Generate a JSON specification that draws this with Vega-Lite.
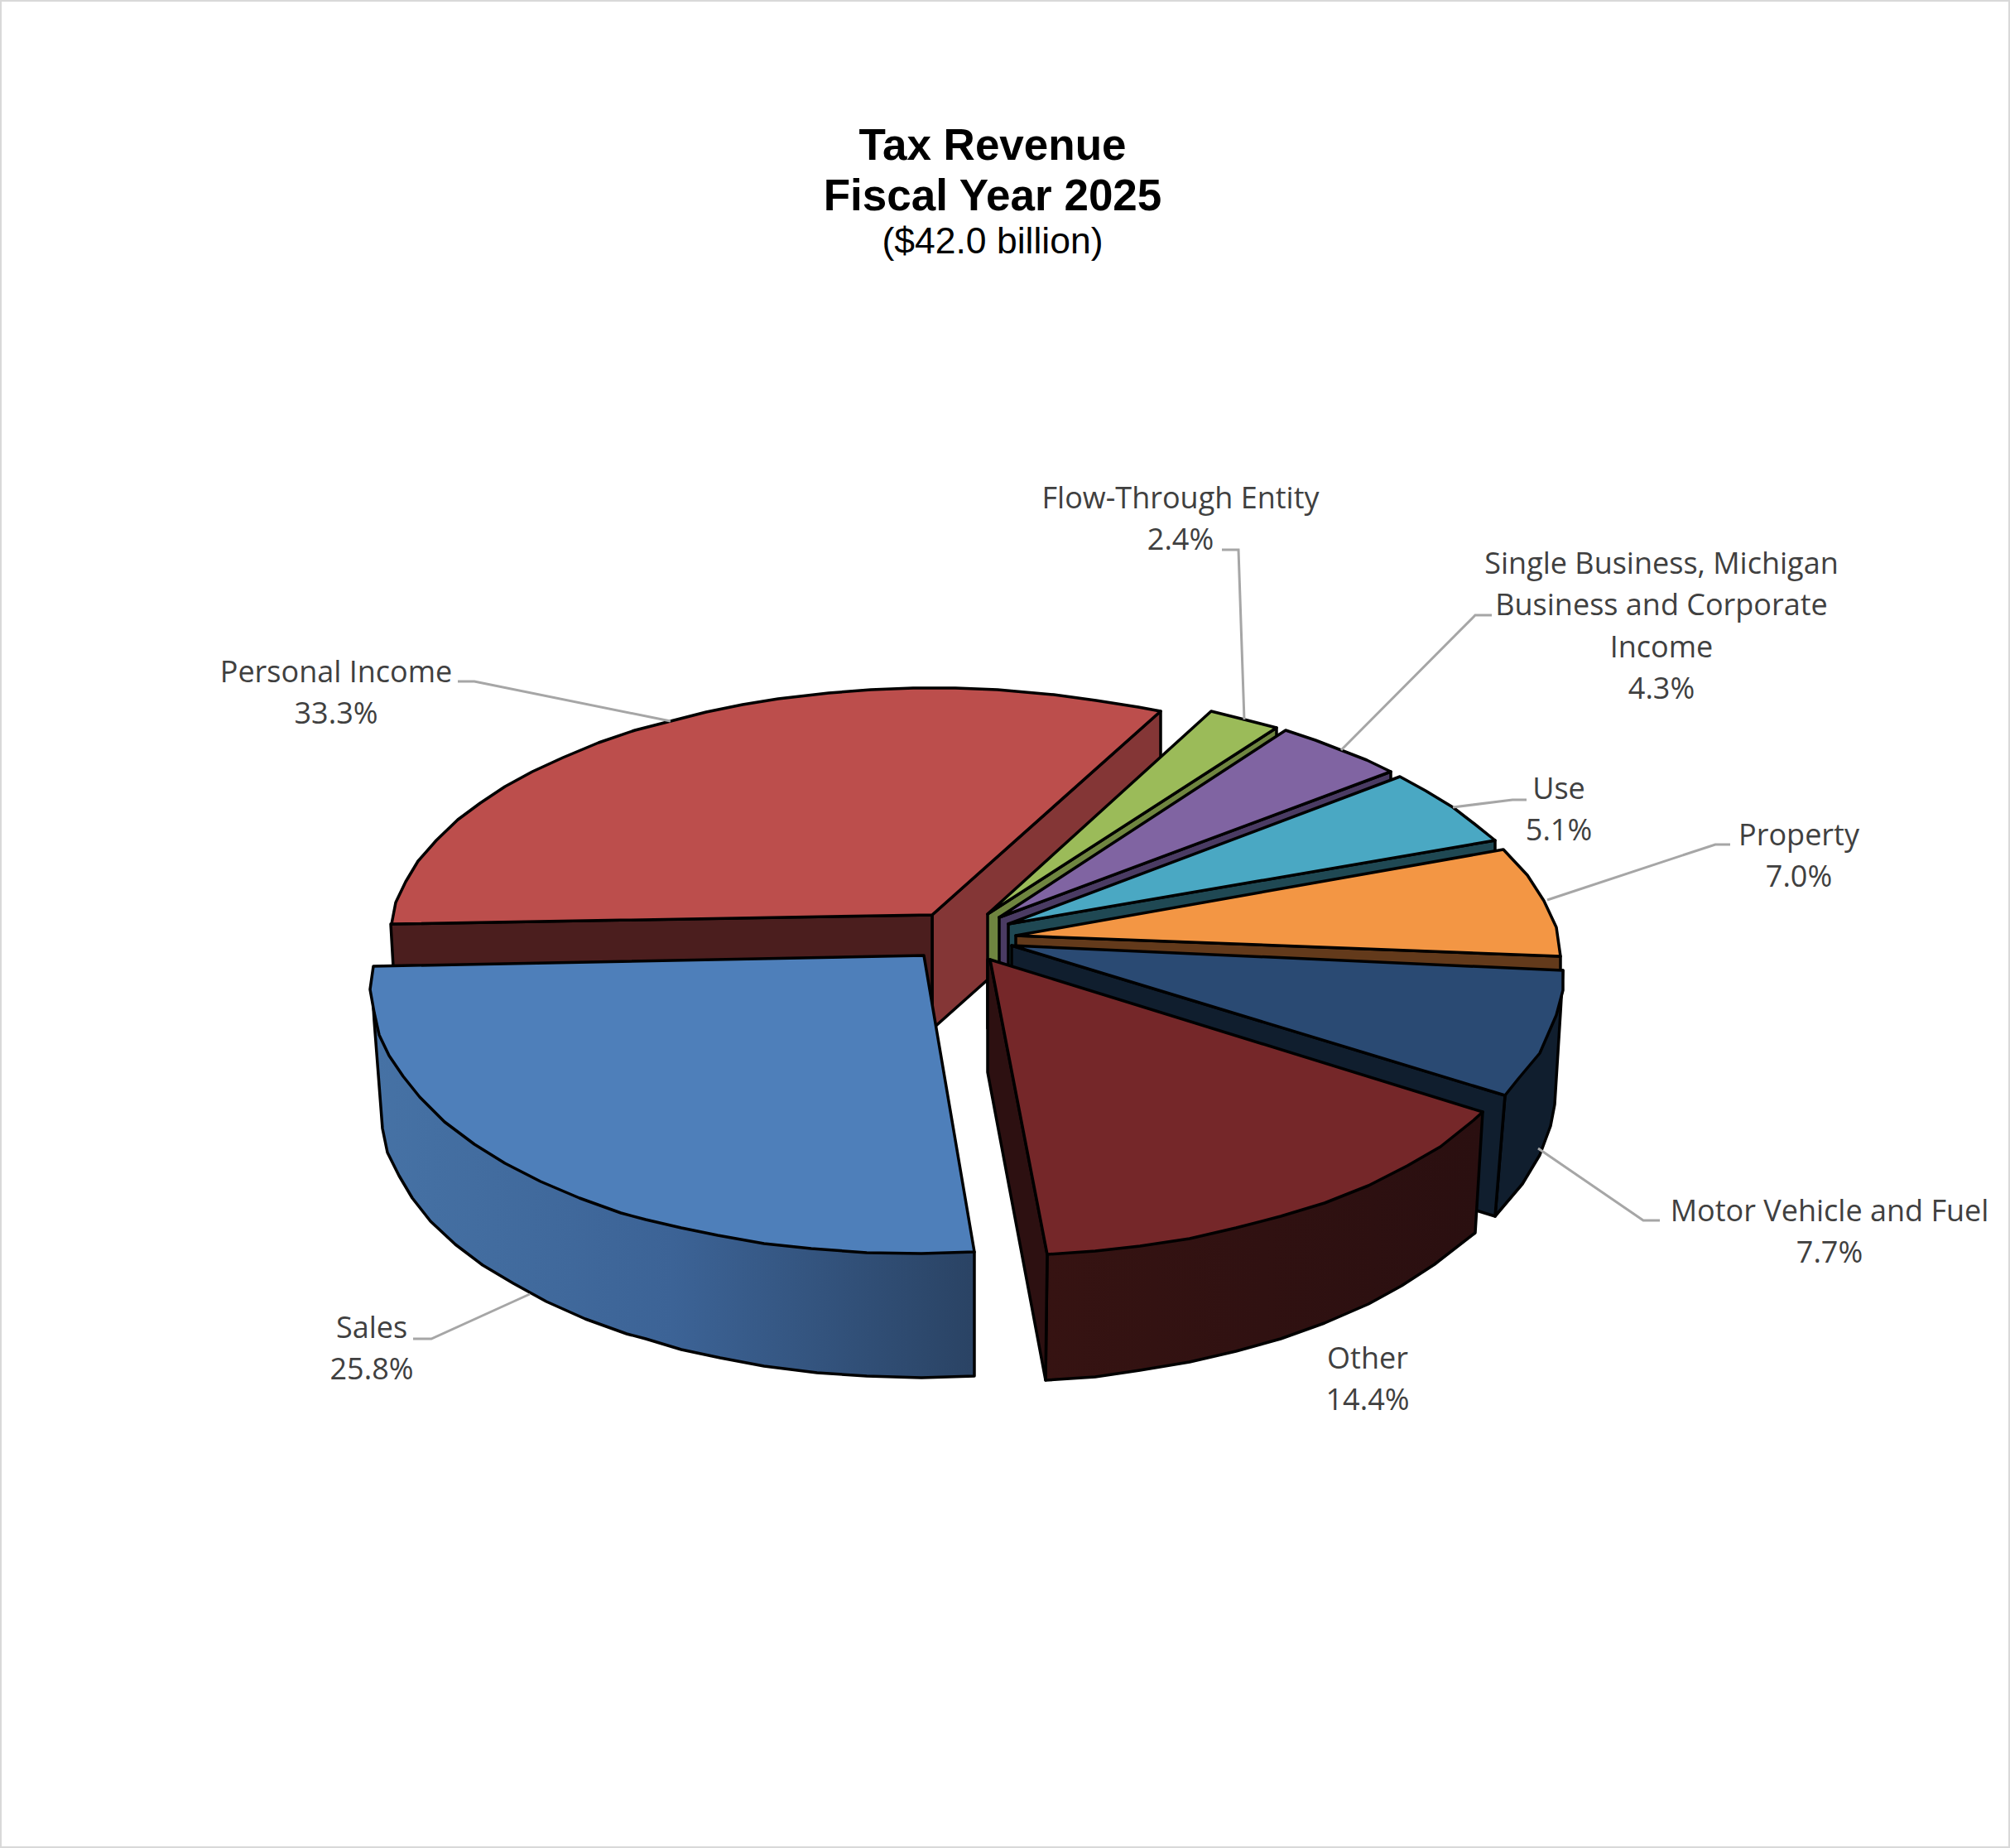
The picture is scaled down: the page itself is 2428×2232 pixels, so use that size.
{
  "$schema": "https://vega.github.io/schema/vega-lite/v6.json",
  "width": 2428,
  "height": 2232,
  "padding": 0,
  "autosize": {"type": "fit", "contains": "padding"},
  "background": "white",
  "view": {"stroke": "#d9d9d9", "strokeWidth": 4},
  "datasets": {
    "back": [
      {"shape":"Personal Income right cut","i":0,"x":1126,"y":1105},{"shape":"Personal Income right cut","i":1,"x":1402,"y":859},{"shape":"Personal Income right cut","i":2,"x":1402,"y":997},{"shape":"Personal Income right cut","i":3,"x":1126,"y":1243},{"shape":"Personal Income right cut","i":4,"x":1126,"y":1105},
      {"shape":"Personal Income left cut","i":0,"x":472,"y":1116},{"shape":"Personal Income left cut","i":1,"x":1126,"y":1105},{"shape":"Personal Income left cut","i":2,"x":1126,"y":1243},{"shape":"Personal Income left cut","i":3,"x":480,"y":1254},{"shape":"Personal Income left cut","i":4,"x":472,"y":1116},
      {"shape":"Personal Income top","i":0,"x":473,"y":1116},{"shape":"Personal Income top","i":1,"x":478,"y":1090},{"shape":"Personal Income top","i":2,"x":490,"y":1065},{"shape":"Personal Income top","i":3,"x":505,"y":1040},{"shape":"Personal Income top","i":4,"x":527,"y":1015},{"shape":"Personal Income top","i":5,"x":553,"y":990},{"shape":"Personal Income top","i":6,"x":580,"y":970},{"shape":"Personal Income top","i":7,"x":610,"y":950},{"shape":"Personal Income top","i":8,"x":643,"y":932},{"shape":"Personal Income top","i":9,"x":680,"y":915},{"shape":"Personal Income top","i":10,"x":723,"y":897},{"shape":"Personal Income top","i":11,"x":767,"y":882},{"shape":"Personal Income top","i":12,"x":810,"y":871},{"shape":"Personal Income top","i":13,"x":853,"y":860},{"shape":"Personal Income top","i":14,"x":897,"y":851},{"shape":"Personal Income top","i":15,"x":940,"y":844},{"shape":"Personal Income top","i":16,"x":1001,"y":837},{"shape":"Personal Income top","i":17,"x":1052,"y":833},{"shape":"Personal Income top","i":18,"x":1103,"y":831},{"shape":"Personal Income top","i":19,"x":1154,"y":831},{"shape":"Personal Income top","i":20,"x":1205,"y":833},{"shape":"Personal Income top","i":21,"x":1273,"y":839},{"shape":"Personal Income top","i":22,"x":1324,"y":846},{"shape":"Personal Income top","i":23,"x":1375,"y":854},{"shape":"Personal Income top","i":24,"x":1402,"y":859},{"shape":"Personal Income top","i":25,"x":1126,"y":1105},{"shape":"Personal Income top","i":26,"x":473,"y":1116},
      {"shape":"Flow-Through cut","i":0,"x":1193,"y":1104},{"shape":"Flow-Through cut","i":1,"x":1542,"y":879},{"shape":"Flow-Through cut","i":2,"x":1542,"y":1017},{"shape":"Flow-Through cut","i":3,"x":1193,"y":1242},{"shape":"Flow-Through cut","i":4,"x":1193,"y":1104},
      {"shape":"Flow-Through top","i":0,"x":1193,"y":1104},{"shape":"Flow-Through top","i":1,"x":1463,"y":859},{"shape":"Flow-Through top","i":2,"x":1503,"y":869},{"shape":"Flow-Through top","i":3,"x":1542,"y":879},{"shape":"Flow-Through top","i":4,"x":1193,"y":1104},
      {"shape":"Single Business cut","i":0,"x":1207,"y":1108},{"shape":"Single Business cut","i":1,"x":1680,"y":932},{"shape":"Single Business cut","i":2,"x":1680,"y":1070},{"shape":"Single Business cut","i":3,"x":1207,"y":1246},{"shape":"Single Business cut","i":4,"x":1207,"y":1108},
      {"shape":"Single Business top","i":0,"x":1207,"y":1108},{"shape":"Single Business top","i":1,"x":1553,"y":882},{"shape":"Single Business top","i":2,"x":1589,"y":894},{"shape":"Single Business top","i":3,"x":1620,"y":906},{"shape":"Single Business top","i":4,"x":1651,"y":918},{"shape":"Single Business top","i":5,"x":1680,"y":932},{"shape":"Single Business top","i":6,"x":1207,"y":1108},
      {"shape":"Use cut","i":0,"x":1218,"y":1116},{"shape":"Use cut","i":1,"x":1806,"y":1015},{"shape":"Use cut","i":2,"x":1806,"y":1153},{"shape":"Use cut","i":3,"x":1218,"y":1254},{"shape":"Use cut","i":4,"x":1218,"y":1116},
      {"shape":"Use top","i":0,"x":1218,"y":1116},{"shape":"Use top","i":1,"x":1691,"y":938},{"shape":"Use top","i":2,"x":1722,"y":955},{"shape":"Use top","i":3,"x":1755,"y":975},{"shape":"Use top","i":4,"x":1781,"y":995},{"shape":"Use top","i":5,"x":1806,"y":1015},{"shape":"Use top","i":6,"x":1218,"y":1116},
      {"shape":"Property cut","i":0,"x":1227,"y":1130},{"shape":"Property cut","i":1,"x":1885,"y":1155},{"shape":"Property cut","i":2,"x":1885,"y":1190},{"shape":"Property cut","i":3,"x":1227,"y":1165},{"shape":"Property cut","i":4,"x":1227,"y":1130},
      {"shape":"Property top","i":0,"x":1227,"y":1130},{"shape":"Property top","i":1,"x":1816,"y":1026},{"shape":"Property top","i":2,"x":1845,"y":1057},{"shape":"Property top","i":3,"x":1865,"y":1088},{"shape":"Property top","i":4,"x":1880,"y":1120},{"shape":"Property top","i":5,"x":1885,"y":1155},{"shape":"Property top","i":6,"x":1227,"y":1130},
      {"shape":"Motor Vehicle rim","i":0,"x":1818,"y":1323},{"shape":"Motor Vehicle rim","i":1,"x":1888,"y":1172},{"shape":"Motor Vehicle rim","i":2,"x":1885,"y":1223},{"shape":"Motor Vehicle rim","i":3,"x":1878,"y":1334},{"shape":"Motor Vehicle rim","i":4,"x":1873,"y":1360},{"shape":"Motor Vehicle rim","i":5,"x":1860,"y":1395},{"shape":"Motor Vehicle rim","i":6,"x":1839,"y":1430},{"shape":"Motor Vehicle rim","i":7,"x":1806,"y":1469},{"shape":"Motor Vehicle rim","i":8,"x":1818,"y":1323},
      {"shape":"Motor Vehicle cut","i":0,"x":1222,"y":1142},{"shape":"Motor Vehicle cut","i":1,"x":1818,"y":1323},{"shape":"Motor Vehicle cut","i":2,"x":1806,"y":1469},{"shape":"Motor Vehicle cut","i":3,"x":1222,"y":1290},{"shape":"Motor Vehicle cut","i":4,"x":1222,"y":1142},
      {"shape":"Motor Vehicle top","i":0,"x":1222,"y":1142},{"shape":"Motor Vehicle top","i":1,"x":1888,"y":1172},{"shape":"Motor Vehicle top","i":2,"x":1888,"y":1196},{"shape":"Motor Vehicle top","i":3,"x":1880,"y":1226},{"shape":"Motor Vehicle top","i":4,"x":1860,"y":1272},{"shape":"Motor Vehicle top","i":5,"x":1834,"y":1303},{"shape":"Motor Vehicle top","i":6,"x":1818,"y":1323},{"shape":"Motor Vehicle top","i":7,"x":1222,"y":1142}
    ],
    "otherRim": [
      {"i":0,"x":1791,"y":1343},{"i":1,"x":1782,"y":1489},{"i":2,"x":1733,"y":1527},{"i":3,"x":1693,"y":1553},{"i":4,"x":1653,"y":1575},{"i":5,"x":1600,"y":1598},{"i":6,"x":1547,"y":1617},{"i":7,"x":1493,"y":1632},{"i":8,"x":1437,"y":1645},{"i":9,"x":1377,"y":1655},{"i":10,"x":1323,"y":1663},{"i":11,"x":1263,"y":1667},{"i":12,"x":1265,"y":1515},{"i":13,"x":1791,"y":1343}
    ],
    "salesRim": [
      {"i":0,"x":450,"y":1201},{"i":1,"x":452,"y":1233},{"i":2,"x":462,"y":1363},{"i":3,"x":468,"y":1392},{"i":4,"x":482,"y":1420},{"i":5,"x":498,"y":1447},{"i":6,"x":520,"y":1475},{"i":7,"x":550,"y":1503},{"i":8,"x":583,"y":1528},{"i":9,"x":620,"y":1550},{"i":10,"x":660,"y":1572},{"i":11,"x":707,"y":1593},{"i":12,"x":757,"y":1611},{"i":13,"x":780,"y":1617},{"i":14,"x":823,"y":1630},{"i":15,"x":870,"y":1640},{"i":16,"x":923,"y":1650},{"i":17,"x":987,"y":1658},{"i":18,"x":1047,"y":1662},{"i":19,"x":1113,"y":1664},{"i":20,"x":1177,"y":1662},{"i":21,"x":1177,"y":1512},{"i":22,"x":450,"y":1201}
    ],
    "front": [
      {"shape":"Other cut","i":0,"x":1196,"y":1159},{"shape":"Other cut","i":1,"x":1265,"y":1515},{"shape":"Other cut","i":2,"x":1263,"y":1667},{"shape":"Other cut","i":3,"x":1193,"y":1295},{"shape":"Other cut","i":4,"x":1193,"y":1159},{"shape":"Other cut","i":5,"x":1196,"y":1159},
      {"shape":"Other top","i":0,"x":1196,"y":1159},{"shape":"Other top","i":1,"x":1791,"y":1343},{"shape":"Other top","i":2,"x":1780,"y":1353},{"shape":"Other top","i":3,"x":1740,"y":1385},{"shape":"Other top","i":4,"x":1700,"y":1408},{"shape":"Other top","i":5,"x":1653,"y":1432},{"shape":"Other top","i":6,"x":1600,"y":1453},{"shape":"Other top","i":7,"x":1547,"y":1469},{"shape":"Other top","i":8,"x":1493,"y":1483},{"shape":"Other top","i":9,"x":1437,"y":1496},{"shape":"Other top","i":10,"x":1377,"y":1505},{"shape":"Other top","i":11,"x":1323,"y":1511},{"shape":"Other top","i":12,"x":1265,"y":1515},{"shape":"Other top","i":13,"x":1196,"y":1159},
      {"shape":"Sales top","i":0,"x":451,"y":1167},{"shape":"Sales top","i":1,"x":1116,"y":1154},{"shape":"Sales top","i":2,"x":1177,"y":1512},{"shape":"Sales top","i":3,"x":1113,"y":1514},{"shape":"Sales top","i":4,"x":1047,"y":1513},{"shape":"Sales top","i":5,"x":980,"y":1508},{"shape":"Sales top","i":6,"x":923,"y":1502},{"shape":"Sales top","i":7,"x":867,"y":1492},{"shape":"Sales top","i":8,"x":823,"y":1483},{"shape":"Sales top","i":9,"x":780,"y":1473},{"shape":"Sales top","i":10,"x":750,"y":1465},{"shape":"Sales top","i":11,"x":700,"y":1447},{"shape":"Sales top","i":12,"x":653,"y":1427},{"shape":"Sales top","i":13,"x":610,"y":1405},{"shape":"Sales top","i":14,"x":573,"y":1382},{"shape":"Sales top","i":15,"x":537,"y":1355},{"shape":"Sales top","i":16,"x":507,"y":1325},{"shape":"Sales top","i":17,"x":487,"y":1300},{"shape":"Sales top","i":18,"x":470,"y":1275},{"shape":"Sales top","i":19,"x":458,"y":1250},{"shape":"Sales top","i":20,"x":452,"y":1223},{"shape":"Sales top","i":21,"x":447,"y":1195},{"shape":"Sales top","i":22,"x":451,"y":1167}
    ],
    "leaders": [
      {"label":"Personal Income","i":0,"x":553,"y":823},{"label":"Personal Income","i":1,"x":573,"y":823},{"label":"Personal Income","i":2,"x":810,"y":871},
      {"label":"Flow-Through Entity","i":0,"x":1476,"y":664},{"label":"Flow-Through Entity","i":1,"x":1496,"y":664},{"label":"Flow-Through Entity","i":2,"x":1503,"y":869},
      {"label":"Single Business","i":0,"x":1802,"y":743},{"label":"Single Business","i":1,"x":1782,"y":743},{"label":"Single Business","i":2,"x":1620,"y":906},
      {"label":"Use","i":0,"x":1844,"y":966},{"label":"Use","i":1,"x":1827,"y":966},{"label":"Use","i":2,"x":1755,"y":975},
      {"label":"Property","i":0,"x":2090,"y":1020},{"label":"Property","i":1,"x":2072,"y":1020},{"label":"Property","i":2,"x":1869,"y":1087},
      {"label":"Motor Vehicle and Fuel","i":0,"x":2005,"y":1474},{"label":"Motor Vehicle and Fuel","i":1,"x":1985,"y":1474},{"label":"Motor Vehicle and Fuel","i":2,"x":1858,"y":1387},
      {"label":"Sales","i":0,"x":499,"y":1617},{"label":"Sales","i":1,"x":521,"y":1617},{"label":"Sales","i":2,"x":640,"y":1563}
    ],
    "labels": [
      {"text":"Personal Income\n33.3%","x":406,"y":812.5},
      {"text":"Sales\n25.8%","x":449,"y":1604.5},
      {"text":"Other\n14.4%","x":1652,"y":1641.5},
      {"text":"Motor Vehicle and Fuel\n7.7%","x":2210,"y":1463.5},
      {"text":"Property\n7.0%","x":2173,"y":1009.5},
      {"text":"Use\n5.1%","x":1883,"y":953.5},
      {"text":"Single Business, Michigan\nBusiness and Corporate\nIncome\n4.3%","x":2007,"y":681.5},
      {"text":"Flow-Through Entity\n2.4%","x":1426,"y":602.5}
    ],
    "headings": [
      {"text":"Tax Revenue","x":1199,"y":177,"level":"title"},
      {"text":"Fiscal Year 2025","x":1199,"y":238,"level":"title"},
      {"text":"($42.0 billion)","x":1199,"y":293,"level":"amount"}
    ]
  },
  "encoding": {
    "x": {"field": "x", "type": "quantitative", "axis": null, "scale": {"domain": [0, 2428], "nice": false, "zero": false}},
    "y": {"field": "y", "type": "quantitative", "axis": null, "scale": {"domain": [2232, 0], "nice": false, "zero": false}}
  },
  "resolve": {"scale": {"fill": "shared"}},
  "layer": [
    {
      "data": {"name": "back"},
      "mark": {"type": "line", "stroke": "black", "strokeWidth": 3.5, "strokeJoin": "round", "strokeCap": "round", "clip": false},
      "encoding": {
        "detail": {"field": "shape"},
        "order": {"field": "i", "type": "quantitative"},
        "fill": {
          "field": "shape",
          "legend": null,
          "sort": null,
          "scale": {
            "domain": ["Personal Income right cut","Personal Income left cut","Personal Income top","Flow-Through cut","Flow-Through top","Single Business cut","Single Business top","Use cut","Use top","Property cut","Property top","Motor Vehicle rim","Motor Vehicle cut","Motor Vehicle top","Other cut","Other top","Sales top"],
            "range": ["#843636","#4b1e1e","#bc4e4c","#6f8540","#9bbb59","#4a3b63","#8064a2","#1f4853","#4aa8c3","#633a1b","#f39644","#101e2e","#101e2e","#2a4a73","#2d1011","#752729","#4e7fba"]
          }
        }
      }
    },
    {
      "data": {"name": "otherRim"},
      "mark": {"type": "line", "stroke": "black", "strokeWidth": 3.5, "strokeJoin": "round", "strokeCap": "round",
        "fill": {"gradient": "linear", "x1": 0, "y1": 0, "x2": 1, "y2": 0, "stops": [{"offset": 0, "color": "#361312"}, {"offset": 1, "color": "#2a0f10"}]}},
      "encoding": {"order": {"field": "i", "type": "quantitative"}}
    },
    {
      "data": {"name": "salesRim"},
      "mark": {"type": "line", "stroke": "black", "strokeWidth": 3.5, "strokeJoin": "round", "strokeCap": "round",
        "fill": {"gradient": "linear", "x1": 0, "y1": 0, "x2": 1, "y2": 0, "stops": [{"offset": 0, "color": "#4672a5"}, {"offset": 0.5, "color": "#3c6396"}, {"offset": 1, "color": "#2a4364"}]}},
      "encoding": {"order": {"field": "i", "type": "quantitative"}}
    },
    {
      "data": {"name": "front"},
      "mark": {"type": "line", "stroke": "black", "strokeWidth": 3.5, "strokeJoin": "round", "strokeCap": "round"},
      "encoding": {
        "detail": {"field": "shape"},
        "order": {"field": "i", "type": "quantitative"},
        "fill": {"field": "shape", "legend": null, "sort": null}
      }
    },
    {
      "data": {"name": "leaders"},
      "mark": {"type": "line", "stroke": "#a6a6a6", "strokeWidth": 3},
      "encoding": {
        "detail": {"field": "label"},
        "order": {"field": "i", "type": "quantitative"}
      }
    },
    {
      "data": {"name": "labels"},
      "mark": {"type": "text", "font": "Open Sans", "fontSize": 36, "color": "#404040", "lineBreak": "\n", "lineHeight": 50.5, "align": "center", "baseline": "middle"},
      "encoding": {"text": {"field": "text"}}
    },
    {
      "data": {"name": "headings"},
      "transform": [{"filter": "datum.level === 'title'"}],
      "mark": {"type": "text", "font": "Liberation Sans", "fontSize": 53, "fontWeight": "bold", "color": "black", "align": "center", "baseline": "middle"},
      "encoding": {"text": {"field": "text"}}
    },
    {
      "data": {"name": "headings"},
      "transform": [{"filter": "datum.level === 'amount'"}],
      "mark": {"type": "text", "font": "Liberation Sans", "fontSize": 44.5, "color": "black", "align": "center", "baseline": "middle"},
      "encoding": {"text": {"field": "text"}}
    }
  ]
}
